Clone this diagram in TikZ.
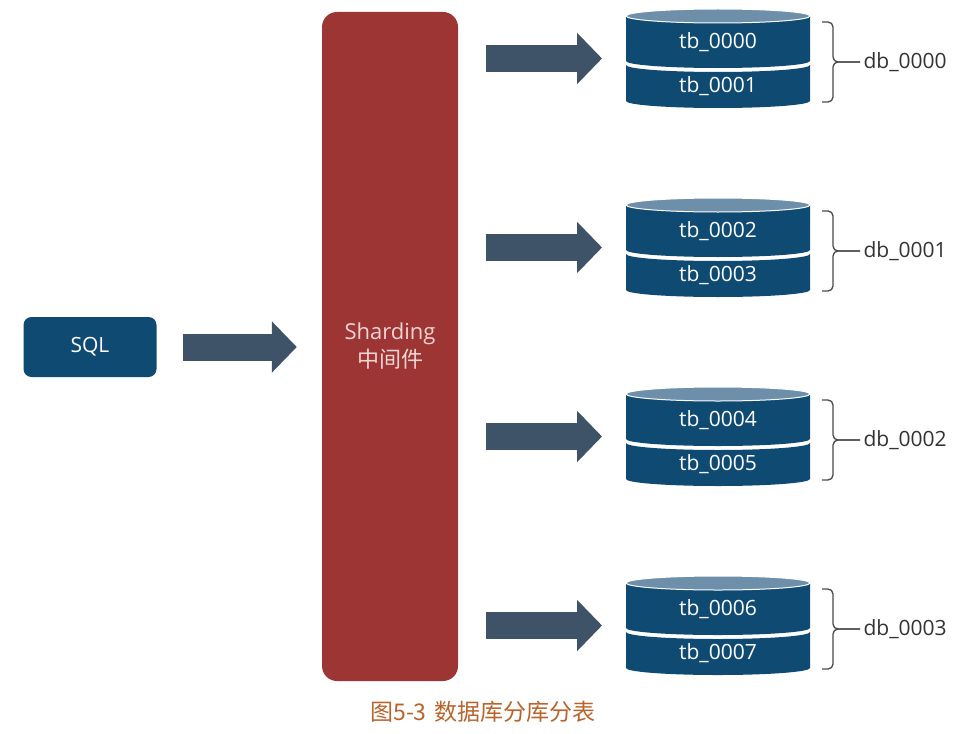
\documentclass[tikz,border=0pt]{standalone}
\usepackage{fontspec}
\setmainfont{Open Sans}
\newfontfamily\cjk{Noto Sans CJK SC}
\usetikzlibrary{arrows.meta,calc,positioning}

\definecolor{dbblue}{HTML}{0F4A73}
\definecolor{dbtop}{HTML}{6E8FAA}
\definecolor{arrowgrey}{HTML}{3E5368}
\definecolor{shardred}{HTML}{9E3535}
\definecolor{shardtext}{HTML}{F2D4D4}
\definecolor{captionbrown}{HTML}{B9622A}
\definecolor{bracegrey}{HTML}{4A4A4A}

\tikzset{
  blockarrow/.style={arrowgrey, line width=27pt, -{Triangle[length=25pt,width=50pt]}},
  tbtext/.style={text=white, font=\fontsize{21}{24}\selectfont},
  dbtext/.style={text=black!80, font=\fontsize{21}{24}\selectfont, anchor=west},
  dbbrace/.style={bracegrey, line width=1.3pt, rounded corners=5pt}
}

\begin{document}
\begin{tikzpicture}[x=1pt,y=-1pt]
        \useasboundingbox (0,0) rectangle (957,733);
        % SQL und Middleware
        \node[fill=dbblue, rounded corners=8pt, minimum width=133pt, minimum height=60pt, tbtext] (sql) at (90,347) {SQL};
        \node[fill=shardred, rounded corners=15pt, minimum width=136pt, minimum height=669pt,
              text=shardtext, align=center, font=\fontsize{22}{28}\selectfont] (shard) at (390,346.5) {Sharding\\{\cjk 中间件}};
        \draw[blockarrow, shorten <=26pt, shorten >=25pt] (sql.east) -- (sql.east -| shard.west);
        % Datenbanken
        \foreach \i/\a/\b in {0/0000/0001,1/0002/0003,2/0004/0005,3/0006/0007} {
          \pgfmathsetmacro\yo{\i*189}
          \begin{scope}[shift={(0,\yo)}]
            \fill[dbblue] (626,16) -- (626,61) arc[start angle=180,end angle=0,x radius=92,y radius=7] -- (810,16) -- cycle;
            \filldraw[fill=dbtop, draw=white, line width=1pt] (718,16) ellipse[x radius=92, y radius=7];
            \fill[dbblue] (626,65) -- (626,101) arc[start angle=180,end angle=0,x radius=92,y radius=7]
              -- (810,65) arc[start angle=0,end angle=180,x radius=92,y radius=7] -- cycle;
            \node[tbtext] (tb\a) at (718,42) {tb\_\a};
            \node[tbtext] (tb\b) at (718,86) {tb\_\b};
            \coordinate (cyl\i) at (626,58.5);
            \node[dbtext] (db\i) at (860,62) {db\_000\i};
            \draw[dbbrace] (822,22) -- (833,22) -- (833,62) -- (db\i.west);
            \draw[dbbrace] (822,102) -- (833,102) -- (833,62) -- (db\i.west);
          \end{scope}
          \draw[blockarrow, shorten <=28pt, shorten >=24pt] (shard.east |- cyl\i) -- (cyl\i);
        }
        \node[text=captionbrown, font=\cjk\fontsize{23}{26}\selectfont] (caption) at (483,712) {图5-3\hspace{8pt}数据库分库分表};
      \end{tikzpicture}
\end{document}
